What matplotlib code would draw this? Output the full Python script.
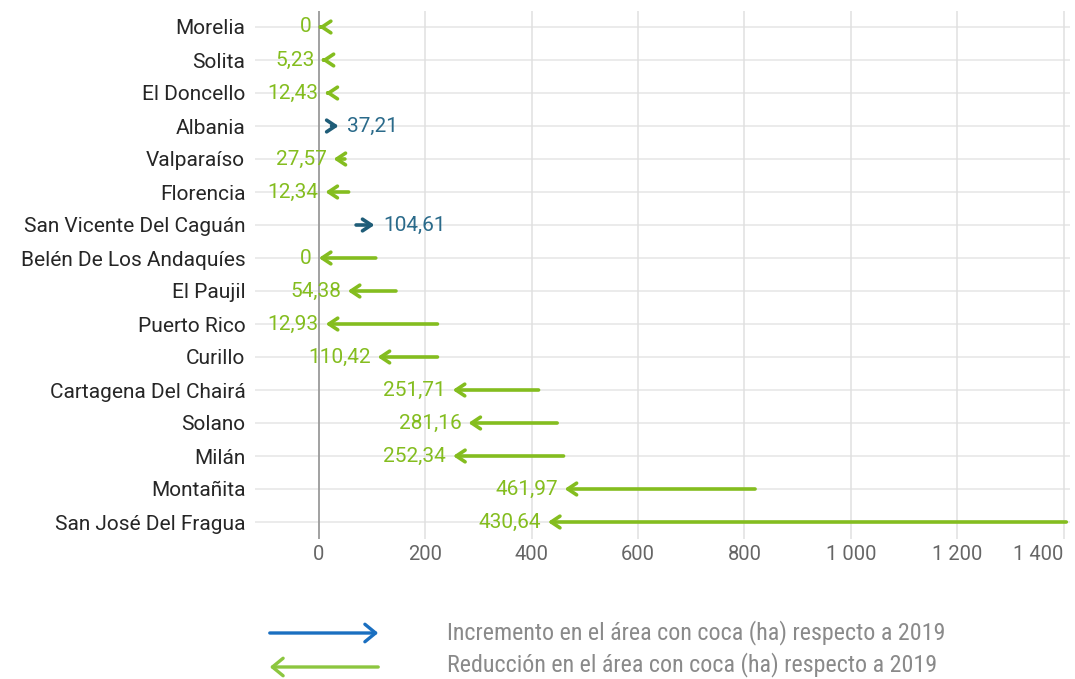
import matplotlib
matplotlib.use("Agg")
import matplotlib.pyplot as plt
from matplotlib import font_manager

municipios = ["Morelia", "Solita", "El Doncello", "Albania", "Valparaíso", "Florencia",
              "San Vicente Del Caguán", "Belén De Los Andaquíes", "El Paujil", "Puerto Rico",
              "Curillo", "Cartagena Del Chairá", "Solano", "Milán", "Montañita",
              "San José Del Fragua"]
coca_2019 = [4, 10, 18, 24, 49, 56, 70, 107, 145, 223, 223, 413, 448, 460, 820, 1405]
coca_2020 = [0, 5.23, 12.43, 37.21, 27.57, 12.34, 104.61, 0, 54.38, 12.93, 110.42,
             251.71, 281.16, 252.34, 461.97, 430.64]
xticks = [0, 200, 400, 600, 800, 1000, 1200, 1400]
xtick_labels = ["0", "200", "400", "600", "800", "1 000", "1 200", "1 400"]

GREEN = "#84bd1f"
BLUE = "#1f5d78"
LEG_BLUE = "#1a6fc0"
LEG_GREEN = "#8cc63f"

avail = {f.name for f in font_manager.fontManager.ttflist}
plt.rcParams['font.family'] = ['Roboto', 'DejaVu Sans']
narrow = [f for f in ["Liberation Sans Narrow", "Roboto Condensed", "Open Sans Condensed"] if f in avail]
leg_family = narrow + ['Liberation Sans', 'DejaVu Sans']

fig = plt.figure(figsize=(10.75, 6.79), dpi=100)
ax = fig.add_axes([255 / 1075, 1 - 538.5 / 679, (1070 - 255) / 1075, (538.5 - 10.5) / 679])
n = len(municipios)
ax.set_ylim(n - 0.5, -0.5)
ax.set_xlim(-120, 1412)

for s in ax.spines.values():
    s.set_visible(False)

# grid
for i in range(n):
    ax.axhline(i, color="#e8e8e8", lw=1.2, zorder=0)
for xt in xticks[1:]:
    ax.axvline(xt, color="#e0e0e0", lw=1.1, zorder=0)
ax.axvline(0, color="#9a9a9a", lw=1.3, zorder=1)

ax.set_yticks(range(n))
ax.set_yticklabels(municipios, fontsize=15, color="#262626")
ax.set_xticks(xticks)
ax.set_xticklabels(xtick_labels, fontsize=14.5, color="#666666")
ax.get_xticklabels()[-1].set_ha("right")
ax.tick_params(axis="both", length=0)
ax.tick_params(axis="y", pad=7)
ax.tick_params(axis="x", pad=5)

def fmt(v):
    if v == 0:
        return "0"
    return f"{v:.2f}".replace(".", ",")

for i, (a, b) in enumerate(zip(coca_2019, coca_2020)):
    inc = b > a
    col = BLUE if inc else GREEN
    ax.annotate("", xy=(b, i), xytext=(a, i),
                arrowprops=dict(arrowstyle="->,head_length=0.45,head_width=0.3",
                                color=col, lw=2.6, shrinkA=0, shrinkB=0,
                                mutation_scale=14), zorder=3)
    if inc:
        ax.annotate(fmt(b), xy=(b, i), xytext=(6, 0), textcoords="offset points",
                    ha="left", va="center", fontsize=15, color="#2a6a8a", zorder=4)
    else:
        ax.annotate(fmt(b), xy=(b, i), xytext=(-5, 0), textcoords="offset points",
                    ha="right", va="center", fontsize=15, color=GREEN, zorder=4)

# legend drawn in figure pixel coordinates
def fy(py):
    return 1 - py / 679

def fx(px):
    return px / 1075

fig.add_artist(matplotlib.patches.FancyArrowPatch(
    (fx(267), fy(633)), (fx(381), fy(633)), transform=fig.transFigure,
    arrowstyle="->,head_length=0.55,head_width=0.45", mutation_scale=14,
    color=LEG_BLUE, lw=2.4))
fig.add_artist(matplotlib.patches.FancyArrowPatch(
    (fx(381), fy(667)), (fx(267), fy(667)), transform=fig.transFigure,
    arrowstyle="->,head_length=0.55,head_width=0.45", mutation_scale=14,
    color=LEG_GREEN, lw=2.4))
fig.text(fx(447), fy(633), "Incremento en el área con coca (ha) respecto a 2019",
         fontsize=17.3, color="#8a8a8a", va="center", ha="left", family=leg_family)
fig.text(fx(447), fy(665), "Reducción en el área con coca (ha) respecto a 2019",
         fontsize=17.3, color="#8a8a8a", va="center", ha="left", family=leg_family)

fig.savefig("out.png", dpi=100)
